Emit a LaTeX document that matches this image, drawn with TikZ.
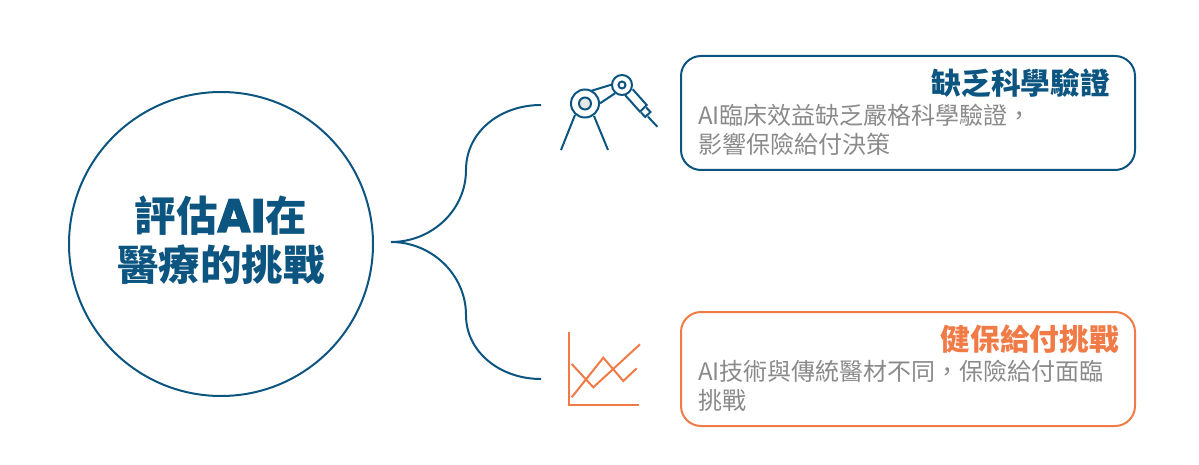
\documentclass[tikz,border=0pt]{standalone}
\usepackage{fontspec}
\setmainfont{Noto Sans CJK TC}
\newfontfamily\latinheavy[FakeStretch=0.95,FakeBold=3]{DejaVu Sans Bold}
\definecolor{deepblue}{HTML}{0B5580}
\definecolor{warmorange}{HTML}{F07B47}
\definecolor{softgray}{HTML}{8A8A8A}
\definecolor{hubgray}{HTML}{E6E6E6}
\tikzset{
  hub/.style={circle,draw=deepblue,line width=2pt,minimum size=304pt,inner sep=0pt,outer sep=0pt},
  hubtext/.style={text=deepblue,align=center,font=\fontsize{41.5}{49}\selectfont\bfseries,inner sep=0pt},
  card/.style={draw=#1,line width=2pt,rounded corners=20pt,minimum width=454pt,minimum height=114pt,anchor=north west,inner sep=0pt,outer sep=0pt},
  cardtitle/.style={text=#1,font=\fontsize{29.7}{32}\selectfont\bfseries,anchor=east,inner sep=0pt},
  cardbody/.style={text=softgray,font=\fontsize{24}{28}\selectfont,anchor=west,inner sep=0pt},
  branch/.style={draw=deepblue,line width=2pt},
  blueicon/.style={draw=deepblue,line width=2pt},
  orangeicon/.style={draw=warmorange,line width=2pt},
}
\begin{document}
\begin{tikzpicture}[x=1pt,y=-1pt]
\useasboundingbox (0,0) rectangle (1199,465);
% hub
\node[hub] (hubnode) at (221,244) {};
\node[hubtext] (hublabel) at (221,240.5) {評估{\fontsize{44.5}{49}\latinheavy AI}在\\醫療的挑戰};
% branches
\coordinate (root) at (391,242);
\coordinate (midtop) at (466,170);
\coordinate (midbot) at (466,315);
\coordinate (endtop) at (541,105);
\coordinate (endbot) at (541,379);
\draw[branch] (root) .. controls (432,242) and (466,210) .. (midtop)
  .. controls (466,132) and (500,105) .. (endtop);
\draw[branch] (root) .. controls (432,242) and (466,275) .. (midbot)
  .. controls (466,352) and (500,379) .. (endbot);
% cards
\node[card=deepblue] (cardtop) at (681,56) {};
\node[card=warmorange] (cardbot) at (681,312) {};
\node[cardtitle=deepblue] (titletop) at (1110,83) {缺乏科學驗證};
\node[cardbody] (bodytopa) at (698,115) {AI臨床效益缺乏嚴格科學驗證，};
\node[cardbody] (bodytopb) at (698,144) {影響保險給付決策};
\node[cardtitle=warmorange] (titlebot) at (1119,339) {健保給付挑戰};
\node[cardbody] (bodybota) at (698,371) {AI技術與傳統醫材不同，保險給付面臨};
\node[cardbody] (bodybotb) at (698,400) {挑戰};
% robot arm icon
\draw[blueicon] (585,103.5) circle (14);
\draw[blueicon,fill=hubgray] (585,103.5) circle (6);
\draw[blueicon] (622,85) circle (10);
\draw[blueicon] (622,85) circle (3.5);
\draw[blueicon] (575,115) -- (561,150);
\draw[blueicon] (594,116) -- (608,150);
\draw[blueicon] (591.7,90.7) -- (612.7,84.3);
\draw[blueicon] (600,103.3) -- (615,93.3);
\draw[blueicon] (632.7,89.3) -- (646.7,105) -- (640,111.7) -- (625,95);
\draw[blueicon] (646.2,107.5) -- (650.5,112) -- (645.3,117) -- (641,112.5);
\draw[blueicon] (648,116.7) -- (657.3,126.7);
% chart icon
\draw[orangeicon,line width=2.4pt] (569,332) -- (569,405) -- (639,405);
\draw[orangeicon] (571.7,397.3) -- (603.3,357.7) -- (623.3,381) -- (636.7,368.3);
\draw[orangeicon] (571.7,364) -- (593.3,387.3) -- (640,344.3);
\end{tikzpicture}
\end{document}
